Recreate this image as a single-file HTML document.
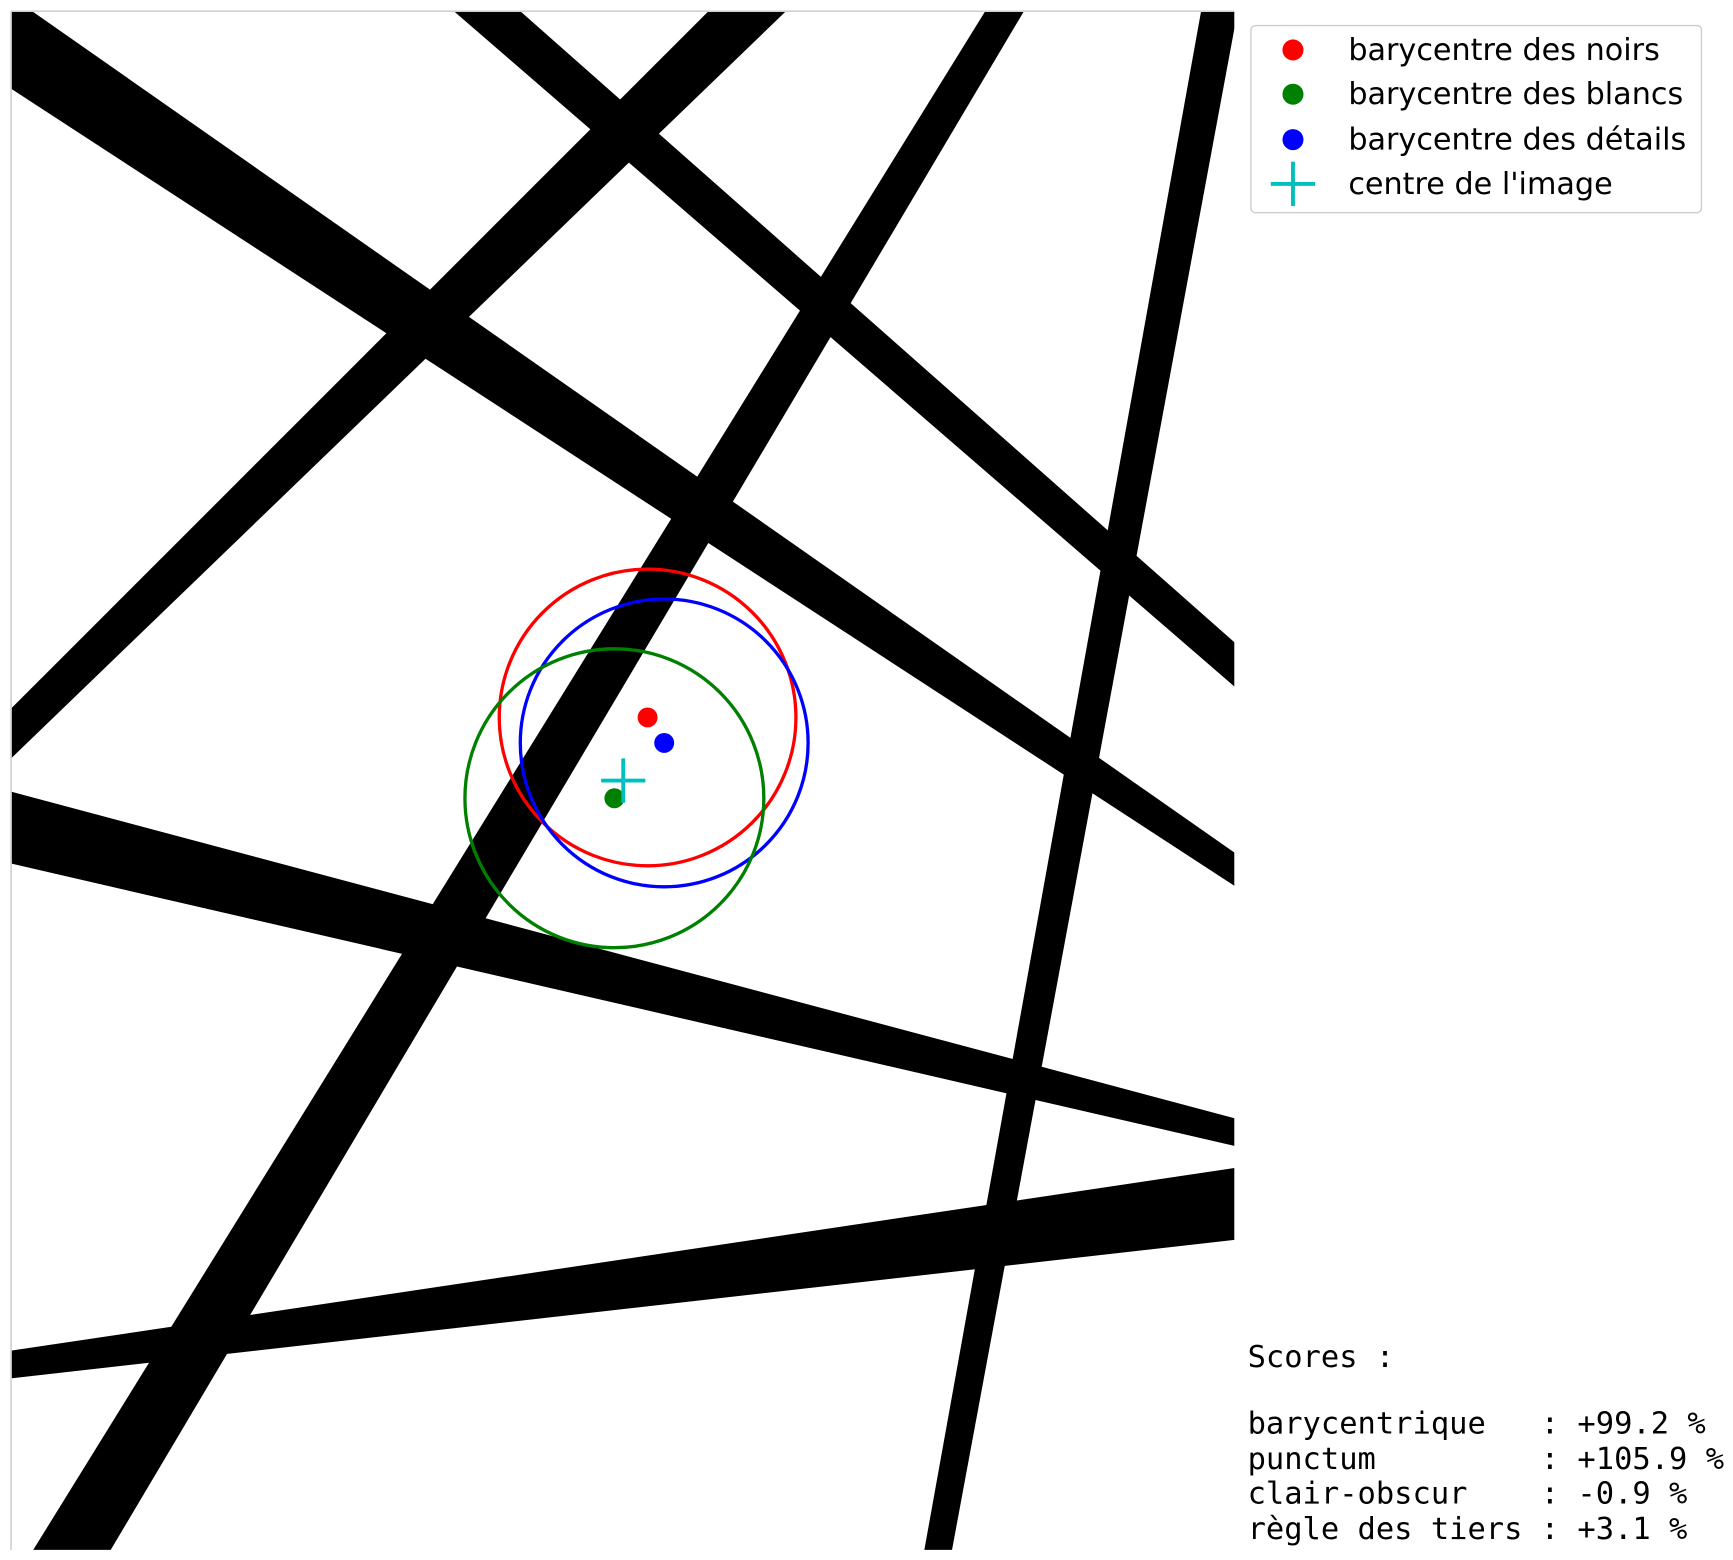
<!DOCTYPE html>
<html>
<head>
<meta charset="utf-8">
<style>
html,body{margin:0;padding:0;background:#fff;width:1733px;height:1560px;overflow:hidden;}
svg{display:block;}
</style>
</head>
<body>
<svg id="chart" width="1733" height="1560" viewBox="0 0 1565.5 1409" xmlns="http://www.w3.org/2000/svg">
  <defs>
    <clipPath id="imgclip"><rect x="10" y="10" width="1105" height="1390"/></clipPath>
  </defs>
  <g>
    <rect x="10" y="10" width="1105" height="1390" fill="#fff"/>
    <g id="bands" clip-path="url(#imgclip)"></g>
    <line x1="10" y1="10" x2="10" y2="1400" stroke="#d0d0d0" stroke-width="1.5"/>
    <line x1="10" y1="10" x2="1115" y2="10" stroke="#d0d0d0" stroke-width="1.5"/>
    <g id="overlays"></g>
  </g>

  <g>
    <rect x="1130" y="23" width="407" height="169" rx="4" fill="#fff" stroke="#cccccc" stroke-width="1.2"/>
    <g>
      <circle cx="1168" cy="45" r="9.5" fill="#ff0000"/>
      <text x="1218" y="54" font-family="DejaVu Sans, Liberation Sans, sans-serif" font-size="27.3">barycentre des noirs</text>
    </g>
    <g>
      <circle cx="1168" cy="85" r="9.5" fill="#008000"/>
      <text x="1218" y="94" font-family="DejaVu Sans, Liberation Sans, sans-serif" font-size="27.3">barycentre des blancs</text>
    </g>
    <g>
      <circle cx="1168" cy="126" r="9.5" fill="#0000ff"/>
      <text x="1218" y="135" font-family="DejaVu Sans, Liberation Sans, sans-serif" font-size="27.3">barycentre des détails</text>
    </g>
    <g>
      <line x1="1148" y1="166" x2="1188" y2="166" stroke="#00bfbf" stroke-width="3.5"/>
      <line x1="1168" y1="146" x2="1168" y2="186" stroke="#00bfbf" stroke-width="3.5"/>
      <text x="1218" y="175" font-family="DejaVu Sans, Liberation Sans, sans-serif" font-size="27.3">centre de l'image</text>
    </g>
  </g>

  <g font-family="DejaVu Sans Mono, Liberation Mono, monospace" font-size="27.5" fill="#000">
    <text x="1127" y="1235" xml:space="preserve">Scores :</text>
    <text x="1127" y="1295" xml:space="preserve">barycentrique   : +99.2 %</text>
    <text x="1127" y="1327" xml:space="preserve">punctum         : +105.9 %</text>
    <text x="1127" y="1358" xml:space="preserve">clair-obscur    : -0.9 %</text>
    <text x="1127" y="1390" xml:space="preserve">règle des tiers : +3.1 %</text>
  </g>
</svg>
<script>
// Bands: each band defined by two edges, each edge as [x1,y1,x2,y2] (image coords)
const bandNames = ["band-a","band-b","band-c","band-d","band-e","band-f","band-g"];
const bandEdgeOne = [
  [29,10,1115,770],
  [470,10,1115,580],
  [640,10,10,640],
  [890,10,30,1400],
  [1085,10,835,1400],
  [10,715,1115,1010],
  [10,1220,1115,1055]
];
const bandEdgeTwo = [
  [10,80,1115,800],
  [410,10,1115,620],
  [710,10,10,685],
  [925,10,100,1400],
  [1118,10,860,1400],
  [10,780,1115,1035],
  [10,1245,1115,1120]
];
// Barycentres
const markerNames = ["noirs","details","blancs"];
const markerX = [585,600,555];
const markerY = [648,671,721];
const markerRadius = [134,130,135];
const markerColors = ["#ff0000","#0000ff","#008000"];
const imageCentre = [563,705];

const NS = "http://www.w3.org/2000/svg";
const bands = document.getElementById("bands");
function ext(e, k){
  const dx=e[2]-e[0], dy=e[3]-e[1];
  return [e[0]-dx*k, e[1]-dy*k, e[2]+dx*k, e[3]+dy*k];
}
for (let i=0;i<bandNames.length;i++){
  const a=ext(bandEdgeOne[i],0.05), b=ext(bandEdgeTwo[i],0.05);
  const p=document.createElementNS(NS,"polygon");
  p.setAttribute("points",`${a[0]},${a[1]} ${a[2]},${a[3]} ${b[2]},${b[3]} ${b[0]},${b[1]}`);
  p.setAttribute("fill","#000");
  
  
  bands.appendChild(p);
}
const ov = document.getElementById("overlays");
for (let i=0;i<markerNames.length;i++){
  const c=document.createElementNS(NS,"circle");
  c.setAttribute("cx",markerX[i]); c.setAttribute("cy",markerY[i]); c.setAttribute("r",markerRadius[i]);
  c.setAttribute("fill","none"); c.setAttribute("stroke",markerColors[i]); c.setAttribute("stroke-width","3");
  
  
  ov.appendChild(c);
}
for (let i=0;i<markerNames.length;i++){
  const d=document.createElementNS(NS,"circle");
  d.setAttribute("cx",markerX[i]); d.setAttribute("cy",markerY[i]); d.setAttribute("r","9");
  d.setAttribute("fill",markerColors[i]);
  
  
  ov.appendChild(d);
}
const g=document.createElementNS(NS,"g");


[[imageCentre[0]-20,imageCentre[1],imageCentre[0]+20,imageCentre[1]],[imageCentre[0],imageCentre[1]-20,imageCentre[0],imageCentre[1]+20]].forEach(l=>{
  const ln=document.createElementNS(NS,"line");
  ln.setAttribute("x1",l[0]);ln.setAttribute("y1",l[1]);ln.setAttribute("x2",l[2]);ln.setAttribute("y2",l[3]);
  ln.setAttribute("stroke","#00bfbf");ln.setAttribute("stroke-width","3.5");
  g.appendChild(ln);
});
ov.appendChild(g);
</script>
</body>
</html>
